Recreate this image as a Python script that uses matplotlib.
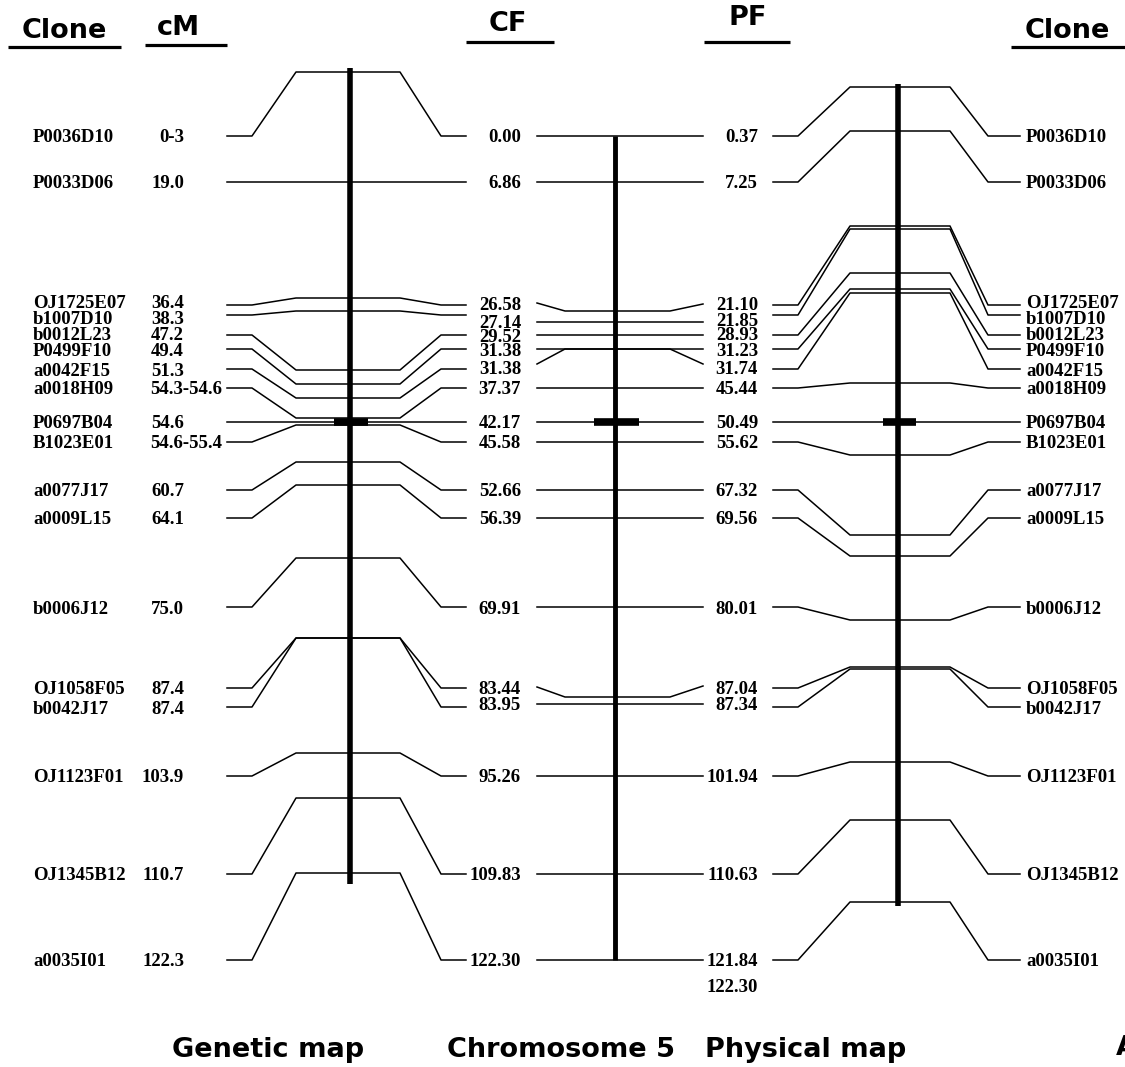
import matplotlib.pyplot as plt

# marker data, top to bottom
clones = ['P0036D10', 'P0033D06', 'OJ1725E07', 'b1007D10', 'b0012L23', 'P0499F10',
          'a0042F15', 'a0018H09', 'P0697B04', 'B1023E01', 'a0077J17', 'a0009L15',
          'b0006J12', 'OJ1058F05', 'b0042J17', 'OJ1123F01', 'OJ1345B12', 'a0035I01']
cm_pos = ['0-3', '19.0', '36.4', '38.3', '47.2', '49.4', '51.3', '54.3-54.6', '54.6',
          '54.6-55.4', '60.7', '64.1', '75.0', '87.4', '87.4', '103.9', '110.7', '122.3']
cf_pos = ['0.00', '6.86', '26.58', '27.14', '29.52', '31.38', '31.38', '37.37', '42.17',
          '45.58', '52.66', '56.39', '69.91', '83.44', '83.95', '95.26', '109.83', '122.30']
pf_pos = ['0.37', '7.25', '21.10', '21.85', '28.93', '31.23', '31.74', '45.44', '50.49',
          '55.62', '67.32', '69.56', '80.01', '87.04', '87.34', '101.94', '110.63', '121.84']

# drawing rows (y on the page, top = 0)
row_y = [136, 182, 305, 315, 335, 349, 369, 388, 422, 442, 490, 518, 607, 688, 707, 776, 874, 960]
label_y = [136, 182, 302, 318, 334, 349, 369, 388, 422, 442, 490, 518, 607, 688, 707, 776, 874, 960]
cf_y = [136, 182, 303, 322, 335, 349, 364, 388, 422, 442, 490, 518, 607, 687, 704, 776, 874, 960]
cf_label_y = [136, 182, 304, 321, 335, 349, 368, 388, 422, 442, 490, 518, 607, 688, 704, 776, 874, 960]
pf_y = [136, 182, 304, 322, 335, 349, 364, 388, 422, 442, 490, 518, 607, 686, 704, 776, 874, 960]
pf_label_y = [136, 182, 304, 320, 334, 350, 368, 388, 422, 442, 490, 518, 607, 688, 704, 776, 874, 960]
cfpf_mid = [136, 182, 311, 322, 335, 349, 349, 388, 422, 442, 490, 518, 607, 697, 704, 776, 874, 960]
gen_bend = [72, 182, 298, 311, 370, 384, 398, 418, 422, 425, 462, 485, 558, 638, 638, 753, 798, 873]
pf_bend = [87, 131, 226, 229, 273, 289, 293, 383, 422, 455, 535, 556, 620, 667, 669, 762, 820, 902]
bar_row = 8

serif = 'Liberation Serif'
sans = 'DejaVu Sans'
fs = 13.5

fig = plt.figure(figsize=(11.25, 10.67), dpi=100)
ax = fig.add_axes([0, 0, 1, 1])
ax.set_xlim(0, 1125)
ax.set_ylim(1067, 0)
ax.axis('off')

lw = 1.1
for i in range(len(clones)):
    y = row_y[i]
    ty = label_y[i]
    # genetic map connectors
    b = gen_bend[i]
    ax.plot([227, 252, 296, 400, 441, 466], [y, y, b, b, y, y], color='k', lw=lw)
    # chromosome (CF -> PF)
    m = cfpf_mid[i]
    ax.plot([537, 565, 670, 703], [cf_y[i], m, m, pf_y[i]], color='k', lw=lw)
    # physical map connectors
    b = pf_bend[i]
    ax.plot([773, 798, 850, 950, 988, 1020], [y, y, b, b, y, y], color='k', lw=lw)

    ax.text(33, ty, clones[i], ha='left', va='center_baseline', fontsize=fs,
            fontweight='bold', family=serif)
    if '-' in cm_pos[i] and len(cm_pos[i]) > 3:
        ax.text(150, ty, cm_pos[i], ha='left', va='center_baseline', fontsize=fs,
                fontweight='bold', family=serif)
    else:
        ax.text(184, ty, cm_pos[i], ha='right', va='center_baseline', fontsize=fs,
                fontweight='bold', family=serif)
    ax.text(521, cf_label_y[i], cf_pos[i], ha='right', va='center_baseline',
            fontsize=fs, fontweight='bold', family=serif)
    ax.text(758, pf_label_y[i], pf_pos[i], ha='right', va='center_baseline', fontsize=fs,
            fontweight='bold', family=serif)
    ax.text(1026, ty, clones[i], ha='left', va='center_baseline', fontsize=fs,
            fontweight='bold', family=serif)

ax.text(758, 986, cf_pos[-1], ha='right', va='center_baseline', fontsize=fs,
        fontweight='bold', family=serif)

# chromosome bars
ax.plot([350, 350], [68, 884], color='k', lw=4, solid_capstyle='butt')
ax.plot([615, 615], [136, 960], color='k', lw=3.5, solid_capstyle='butt')
ax.plot([898, 898], [84, 906], color='k', lw=4, solid_capstyle='butt')
yb = row_y[bar_row]
ax.plot([334, 368], [yb, yb], color='k', lw=5.5, solid_capstyle='butt')
ax.plot([594, 639], [yb, yb], color='k', lw=5.5, solid_capstyle='butt')
ax.plot([883, 916], [yb, yb], color='k', lw=5.5, solid_capstyle='butt')

# column headers
headers = [('Clone', 64, 31, 8, 121, 47), ('cM', 178, 28, 145, 227, 45),
           ('CF', 508, 24, 466, 554, 42), ('PF', 748, 18, 704, 790, 42),
           ('Clone', 1067, 31, 1011, 1125, 47)]
for txt, x, y, x0, x1, yl in headers:
    ax.text(x, y, txt, ha='center', va='center', fontsize=19.5, fontweight='bold', family=sans)
    ax.plot([x0, x1], [yl, yl], color='k', lw=2.3, solid_capstyle='butt')

for txt, x in [('Genetic map', 268), ('Chromosome 5', 561), ('Physical map', 806)]:
    ax.text(x, 1050, txt, ha='center', va='center', fontsize=19.5, fontweight='bold', family=sans)
ax.text(1116, 1048, 'A', ha='left', va='center', fontsize=19.5, fontweight='bold', family=sans)

fig.savefig('out.png', dpi=100, facecolor='white')
